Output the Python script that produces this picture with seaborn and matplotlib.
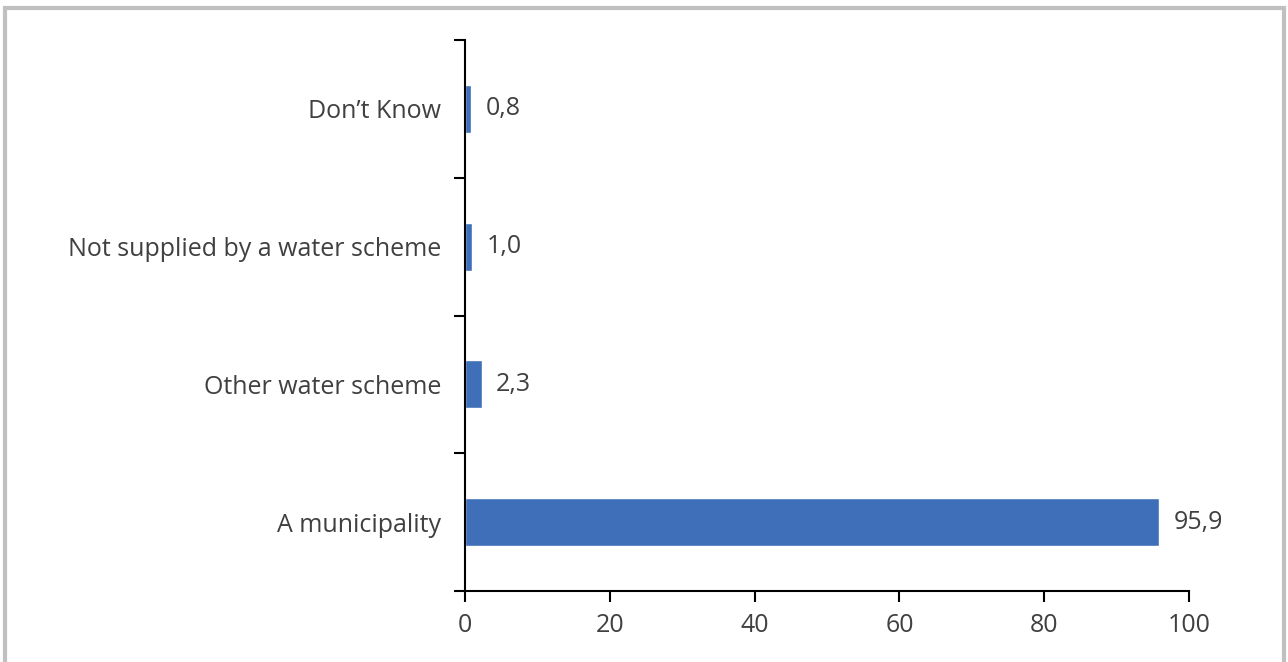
import matplotlib
matplotlib.use("Agg")
import matplotlib.pyplot as plt
import seaborn as sns
import pandas as pd
from matplotlib.patches import Rectangle

categories = ["Don\u2019t Know", "Not supplied by a water scheme", "Other water scheme", "A municipality"]
values = [0.8, 1.0, 2.3, 95.9]
value_labels = ["0,8", "1,0", "2,3", "95,9"]
xticks = [0, 20, 40, 60, 80, 100]

sns.set_theme(style="white")
plt.rcParams['font.family'] = ['Open Sans', 'DejaVu Sans']

df = pd.DataFrame({"cat": categories, "val": values})
fig = plt.figure(figsize=(12.88, 6.62), dpi=100)
ax = fig.add_axes([465/1288, 71/662, (1189-465)/1288, (591-40)/662])

sns.barplot(data=df, y="cat", x="val", orient="h", order=categories, color="#3F6FB8",
            saturation=1, width=0.35, ax=ax)

text_color = "#404040"
fs = 18
for i, (v, lab) in enumerate(zip(values, value_labels)):
    ax.text(v + 2, i, lab, va="center", ha="left", fontsize=fs, color=text_color)

ax.set_xlim(0, 100)
ax.set_ylim(3.5, -0.5)
ax.set_xticks(xticks)
ax.set_xticklabels([str(t) for t in xticks], fontsize=fs, color=text_color)
ax.set_yticks(range(len(categories)))
ax.set_yticklabels(categories, fontsize=fs, color=text_color)
ax.set_yticks([-0.5, 0.5, 1.5, 2.5, 3.5], minor=True)
ax.tick_params(axis="y", which="major", length=0, pad=17, left=True)
ax.tick_params(axis="y", which="minor", length=8, width=1.5, color="black", direction="out", left=True)
ax.tick_params(axis="x", which="major", length=8, width=1.5, color="black", direction="out", pad=8, bottom=True)
ax.set_xlabel("")
ax.set_ylabel("")
for s in ["top", "right"]:
    ax.spines[s].set_visible(False)
for s in ["left", "bottom"]:
    ax.spines[s].set_color("black")
    ax.spines[s].set_linewidth(1.5)

fig.patches.append(Rectangle((5/1288, -0.05), (1284-5)/1288, 1.05 - 8/662,
                             transform=fig.transFigure, fill=False,
                             edgecolor="#c0c0c0", linewidth=3))
fig.savefig("out.png", dpi=100)
